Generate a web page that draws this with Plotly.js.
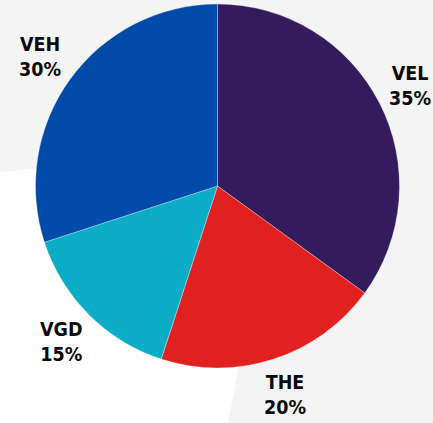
<!DOCTYPE html>
<html>
<head>
<meta charset="utf-8">
<script src="https://cdn.plot.ly/plotly-3.0.1.min.js"></script>
<style>
  html, body { margin: 0; padding: 0; background: #f4f4f5; }
  #chart { width: 433px; height: 423px; }
</style>
</head>
<body>
<div id="chart"></div>
<script>
const labels = ["VEL", "THE", "VGD", "VEH"];
const values = [35, 20, 15, 30];
const colors = ["#331b5e", "#e0211f", "#0aadc5", "#014aa9"];

const W = 433, H = 423;
// pie centre and radius in pixels
const cx = 217.5, cy = 186, r = 182;
const labelR = 220;

const total = values.reduce((a, b) => a + b, 0);

// labels sit outside the pie at the middle angle of each slice
let cum = 0;
const annotations = labels.map((lab, i) => {
  const frac = values[i] / total;
  const a = (cum + frac / 2) * 2 * Math.PI;
  cum += frac;
  // keep the text inside the page
  const px = Math.min(W - 23, Math.max(23, cx + labelR * Math.sin(a)));
  const py = cy - labelR * Math.cos(a);
  return {
    xref: "paper",
    yref: "paper",
    x: px / W,
    y: 1 - py / H,
    xanchor: "center",
    yanchor: "middle",
    showarrow: false,
    align: "center",
    text: "<b>" + lab + "</b><br><b>" + Math.round(frac * 100) + "%</b>",
    font: { family: "DejaVu Sans Condensed", size: 19.5, color: "#0a0a0a", weight: "bold" },
  };
});

const data = [
  {
    type: "pie",
    labels: labels,
    values: values,
    sort: false,
    direction: "clockwise",
    rotation: 0,
    marker: { colors: colors, line: { color: "rgba(255,255,255,0.3)", width: 1 } },
    textinfo: "none",
    hoverinfo: "skip",
    showlegend: false,
    domain: {
      x: [(cx - r) / W, (cx + r) / W],
      y: [1 - (cy + r) / H, 1 - (cy - r) / H],
    },
  },
];

const layout = {
  width: W,
  height: H,
  margin: { t: 0, b: 0, l: 0, r: 0 },
  paper_bgcolor: "#f4f4f5",
  plot_bgcolor: "#f4f4f5",
  showlegend: false,
  // white band in the lower left of the background
  shapes: [
    {
      type: "path",
      xref: "paper",
      yref: "paper",
      path: "M 0 " + (1 - 172 / H) + " L " + (217 / W) + " " + (1 - 150 / H) +
        " L " + (240 / W) + " " + (1 - 360 / H) + " L " + (228 / W) + " 0 L 0 0 Z",
      fillcolor: "#ffffff",
      line: { width: 0 },
      layer: "below",
    },
  ],
  annotations: annotations,
};

Plotly.newPlot("chart", data, layout, { displayModeBar: false, staticPlot: true });
</script>
</body>
</html>
